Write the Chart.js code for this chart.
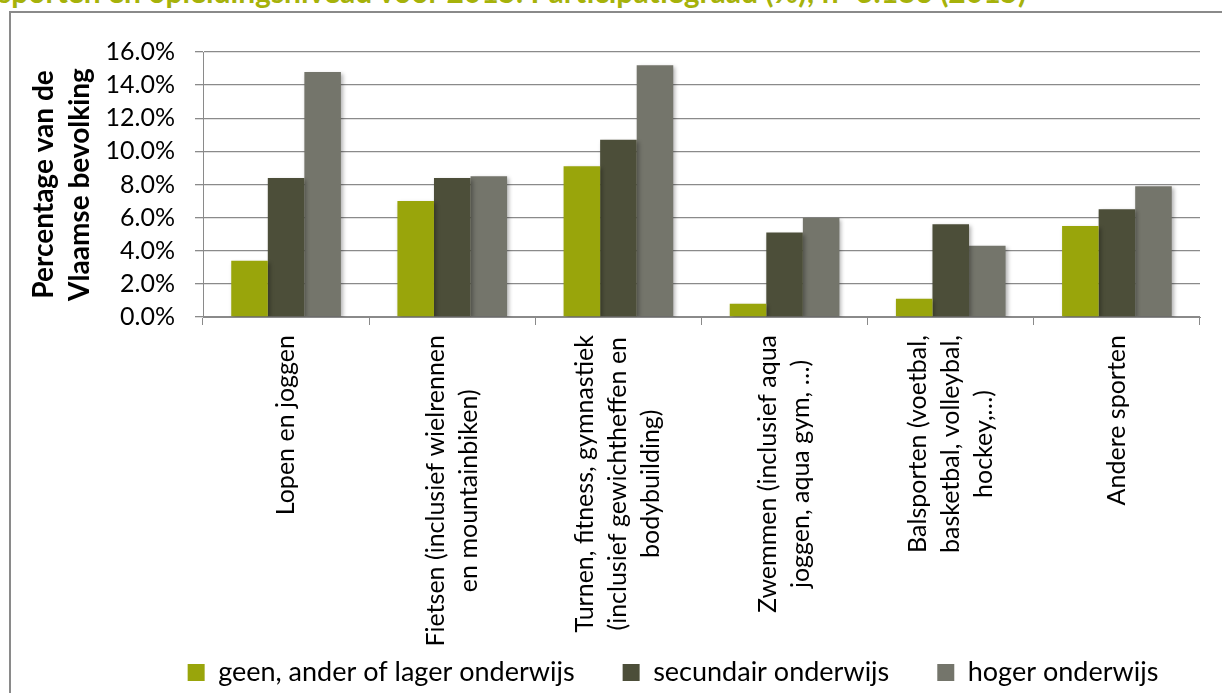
<!DOCTYPE html>
<html>
<head>
<meta charset="utf-8">
<script src="https://cdn.jsdelivr.net/npm/chart.js"></script>
<style>
  html, body { margin: 0; padding: 0; background: #fff; }
  body { position: relative; width: 1222px; height: 693px; overflow: hidden; font-family: Lato, sans-serif; }
  .caption {
    position: absolute; left: -2px; top: -24px;
    font: bold 30px/30px Lato, sans-serif; color: #a6b20a; white-space: nowrap;
  }
  .frame {
    position: absolute; left: 9px; top: 11px; width: 1260px; height: 720px;
    border: 2px solid #8a8a8a; box-sizing: border-box;
  }
  .chart-container { position: absolute; left: 0; top: 0; width: 1222px; height: 693px; }
</style>
</head>
<body>
<div class="caption">sporten en opleidingsniveau voor 2015. Participatiegraad (%); n=3.186 (2015)</div>
<div class="frame"></div>
<div class="chart-container"><canvas id="chart"></canvas></div>
<script>
'use strict'

const categories = [
  ['Lopen en joggen'],
  ['Fietsen (inclusief wielrennen', 'en mountainbiken)'],
  ['Turnen, fitness, gymnastiek', '(inclusief gewichtheffen en', 'bodybuilding)'],
  ['Zwemmen (inclusief aqua', 'joggen, aqua gym, …)'],
  ['Balsporten (voetbal,', 'basketbal, volleybal,', 'hockey,…)'],
  ['Andere sporten']
]

const seriesNames = ['geen, ander of lager onderwijs', 'secundair onderwijs', 'hoger onderwijs']
const seriesColors = ['#99a50b', '#4c4e39', '#74756b']

const lagerValues = [3.4, 7.0, 9.1, 0.8, 1.1, 5.5]
const secundairValues = [8.4, 8.4, 10.7, 5.1, 5.6, 6.5]
const hogerValues = [14.8, 8.5, 15.2, 6.0, 4.3, 7.9]

const yAxisTitle = ['Percentage van de', 'Vlaamse bevolking']
const yMin = 0
const yMax = 16
const yStep = 2

const LABEL_FONT = '25px Lato'
const LABEL_LINE = 33

Chart.defaults.font.family = 'Lato'
Chart.defaults.color = '#000'

// category labels: rotated, block top-aligned under the axis, lines centred
const verticalLabels = {
  id: 'verticalLabels',
  afterDraw(chart) {
    const { ctx } = chart
    const x = chart.scales.x

    ctx.save()
    ctx.font = LABEL_FONT
    ctx.fillStyle = '#000'
    ctx.textAlign = 'center'
    ctx.textBaseline = 'middle'

    chart.data.labels.forEach((lines, i) => {
      const width = Math.max(...lines.map(l => ctx.measureText(l).width))

      ctx.save()
      ctx.translate(x.getPixelForValue(i), x.top + 18)
      ctx.rotate(-Math.PI / 2)
      lines.forEach((line, j) => {
        ctx.fillText(line, -width / 2, (j - (lines.length - 1) / 2) * LABEL_LINE)
      })
      ctx.restore()
    })

    ctx.restore()
  }
}

const barShadow = {
  id: 'barShadow',
  beforeDatasetsDraw(chart) {
    const { ctx } = chart
    ctx.save()
    ctx.shadowColor = 'rgba(0, 0, 0, 0.3)'
    ctx.shadowBlur = 4
    ctx.shadowOffsetX = 2
    ctx.shadowOffsetY = 2
  },
  afterDatasetsDraw(chart) {
    chart.ctx.restore()
  }
}

const legendNudge = {
  id: 'legendNudge',
  afterLayout(chart) {
    chart.legend.left += 73
    chart.legend.right += 73
    chart.legend.top += 3
    chart.legend.bottom += 3
  }
}

new Chart(document.getElementById('chart').getContext('2d'), {
  type: 'bar',

  data: {
    labels: categories,
    datasets: [lagerValues, secundairValues, hogerValues].map((data, i) => ({
      label: seriesNames[i],
      data,
      backgroundColor: seriesColors[i],
      borderWidth: 0,
      categoryPercentage: 0.66,
      barPercentage: 1
    }))
  },

  options: {
    responsive: true,
    maintainAspectRatio: false,
    animation: false,
    layout: { padding: { top: 52, right: 22, bottom: 0, left: 0 } },

    scales: {
      x: {
        grid: {
          drawOnChartArea: false,
          offset: true,
          color: '#8a8a8a',
          tickLength: 8
        },
        border: { color: '#8a8a8a', width: 1 },
        ticks: { display: false },
        afterFit: s => { s.height = 291 }
      },
      y: {
        min: yMin,
        max: yMax,
        grid: { color: '#8a8a8a', tickLength: 8, lineWidth: 1.3 },
        border: { color: '#8a8a8a', width: 1 },
        ticks: {
          stepSize: yStep,
          padding: 20,
          font: { size: 25 },
          callback: v => v.toFixed(1) + '%'
        },
        title: {
          display: true,
          text: yAxisTitle,
          font: { size: 28, weight: 'bold', lineHeight: 1.29 },
          padding: { top: 26, bottom: 0 }
        },
        afterFit: s => { s.width = 203 }
      }
    },

    plugins: {
      legend: {
        position: 'bottom',
        labels: {
          boxWidth: 17,
          boxHeight: 17,
          padding: 48,
          font: { size: 27 }
        }
      },
      tooltip: { enabled: false }
    }
  },

  plugins: [verticalLabels, barShadow, legendNudge]
})
</script>
</body>
</html>
